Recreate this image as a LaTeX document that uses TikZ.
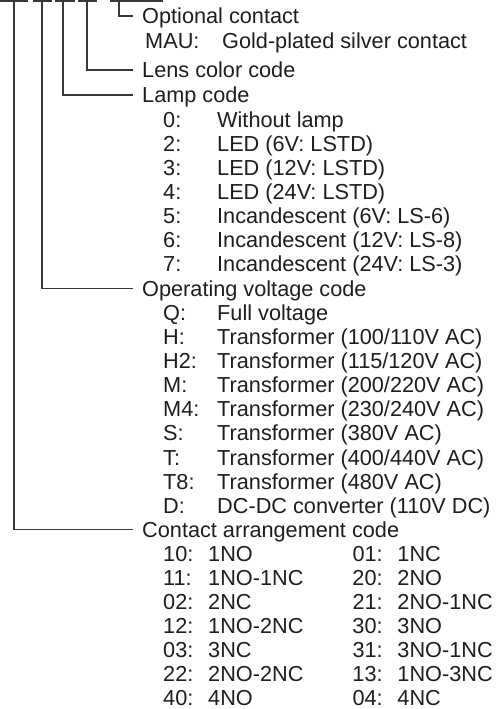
\documentclass[tikz,border=0pt]{standalone}
\usepackage{fontspec}
\setmainfont{Liberation Sans}
\usepackage{array}
\definecolor{ink}{HTML}{1E1E1E}
\definecolor{rule}{HTML}{383838}

\begin{document}
\begin{tikzpicture}[x=1pt,y=-1pt,
  every node/.style={inner sep=0pt,anchor=base west,text=ink,
                     font=\fontsize{21.7}{24.15}\selectfont},
  head/.style={anchor=west,inner xsep=9pt,inner ysep=0pt,text height=15.6pt,text depth=0pt},
  lead/.style={draw=rule,line width=1.3pt},
  bar/.style={draw=rule,line width=1.5pt}]
\useasboundingbox (0,0) rectangle (503,709);
% digit bars of the model number
\draw[bar] (0,0.9) -- (28,0.9);
\draw[bar] (33,0.9) -- (52,0.9);
\draw[bar] (55,0.9) -- (75,0.9);
\draw[bar] (78,0.9) -- (97,0.9);
\draw[bar] (110,0.9) -- (163,0.9);
\coordinate (dCon) at (14,0.2);
\coordinate (dVolt) at (42,0.2);
\coordinate (dLamp) at (63,0.2);
\coordinate (dLens) at (87,0.2);
\coordinate (dOpt) at (119,0.2);
% headings
\node[head] (hOpt) at (133,16) {Optional contact};
\node (lOpt) at (145,48.8) {\begin{tabular}[t]{@{}p{77pt}@{}l@{}}MAU: & Gold-plated silver contact\end{tabular}};
\node[head] (hLens) at (133,70) {Lens color code};
\node[head] (hLamp) at (133,95) {Lamp code};
\node (lLamp) at (163,127) {\begin{tabular}[t]{@{}p{54pt}@{}l@{}}
  0: & Without lamp\\
  2: & LED (6V: LSTD)\\
  3: & LED (12V: LSTD)\\
  4: & LED (24V: LSTD)\\
  5: & Incandescent (6V: LS-6)\\
  6: & Incandescent (12V: LS-8)\\
  7: & Incandescent (24V: LS-3)\end{tabular}};
\node[head] (hVolt) at (133,288.2) {Operating voltage code};
\node (lVolt) at (163,320.2) {\begin{tabular}[t]{@{}p{54pt}@{}l@{}}
  Q: & Full voltage\\
  H: & Transformer (100/110V AC)\\
  H2: & Transformer (115/120V AC)\\
  M: & Transformer (200/220V AC)\\
  M4: & Transformer (230/240V AC)\\
  S: & Transformer (380V AC)\\
  T: & Transformer (400/440V AC)\\
  T8: & Transformer (480V AC)\\
  D: & DC-DC converter (110V DC)\end{tabular}};
\node[head] (hCon) at (133,529.7) {Contact arrangement code};
\node[text depth=0pt] (lCon) at (163,561) {\fontsize{21.7}{24}\selectfont
  \begin{tabular}[t]{@{}p{45pt}@{}p{144.3pt}@{}p{45pt}@{}l@{}}
  10: & 1NO & 01: & 1NC\\
  11: & 1NO-1NC & 20: & 2NO\\
  02: & 2NC & 21: & 2NO-1NC\\
  12: & 1NO-2NC & 30: & 3NO\\
  03: & 3NC & 31: & 3NO-1NC\\
  22: & 2NO-2NC & 13: & 1NO-3NC\\
  40: & 4NO & 04: & 4NC\end{tabular}};
% leaders
\draw[lead] (dOpt) |- (hOpt.west);
\draw[lead] (dLens) |- (hLens.west);
\draw[lead] (dLamp) |- (hLamp.west);
\draw[lead] (dVolt) |- (hVolt.west);
\draw[lead] (dCon) |- (hCon.west);
\end{tikzpicture}
\end{document}
